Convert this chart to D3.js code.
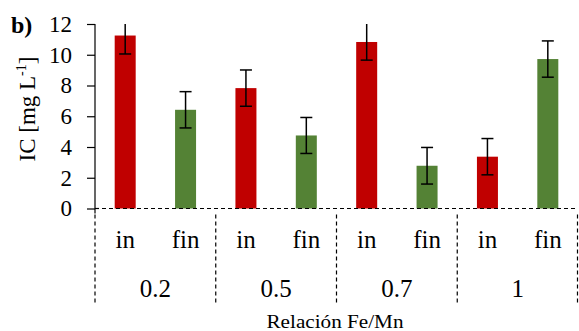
<!DOCTYPE html>
<html><head><meta charset="utf-8">
<script src="https://cdn.jsdelivr.net/npm/d3@7"></script>
<style>body{margin:0;background:#fff}svg{display:block}text{font-family:"Liberation Serif","Times New Roman",serif;fill:#000}</style>
</head><body>
<script>
const categories = ["0.2", "0.5", "0.7", "1"];
const stages = ["in", "fin"];
const inValues = [11.25, 7.83, 10.83, 3.37];
const finValues = [6.42, 4.75, 2.78, 9.72];
const inErrors = [1.2, 1.18, 1.18, 1.18];
const finErrors = [1.18, 1.17, 1.19, 1.18];
const yTicks = [0, 2, 4, 6, 8, 10, 12];
const colors = {in: "#C00000", fin: "#548235"};

const W = 579, H = 331;
const svg = d3.select("body").append("svg").attr("width", W).attr("height", H);
const x0 = 95, x1 = 578, yBase = 208.5, yTop = 24;

const xGroup = d3.scaleBand().domain(categories).range([x0, x1]).padding(0);
const xStage = d3.scaleBand().domain(stages).range([0, xGroup.bandwidth()]).padding(0);
const y = d3.scaleLinear().domain([0, 12]).range([yBase, yTop]);
const barW = 21;

const data = [];
categories.forEach((c, i) => {
  data.push({cat: c, stage: "in", v: inValues[i], e: inErrors[i]});
  data.push({cat: c, stage: "fin", v: finValues[i], e: finErrors[i]});
});
const cx = d => xGroup(d.cat) + xStage(d.stage) + xStage.bandwidth() / 2;

// bars
svg.selectAll("rect.bar").data(data).join("rect")
  .attr("x", d => cx(d) - barW / 2).attr("width", barW)
  .attr("y", d => y(d.v)).attr("height", d => y(0) - y(d.v))
  .attr("fill", d => colors[d.stage]);

// baseline dashed
svg.append("line").attr("x1", x0).attr("x2", x1).attr("y1", yBase).attr("y2", yBase)
  .attr("stroke", "#000").attr("stroke-width", 1.2).attr("stroke-dasharray", "4,3");

// y axis
const yAxis = d3.axisLeft(y).tickValues(yTicks).tickSize(8).tickPadding(15).tickFormat(d3.format("d"));
const ga = svg.append("g").attr("transform", `translate(${x0},0)`).call(yAxis);
ga.select(".domain").remove();
ga.append("line").attr("x1", 0).attr("x2", 0).attr("y1", yTop).attr("y2", yBase + 5).attr("stroke", "#000").attr("stroke-width", 1.2);
ga.selectAll(".tick line").attr("stroke", "#000").attr("stroke-width", 1.2);
ga.selectAll(".tick text").attr("font-size", 23).attr("font-family", "Liberation Serif").attr("fill", "#000");
ga.append("line").attr("x1", 0).attr("x2", 4).attr("y1", yBase).attr("y2", yBase).attr("stroke", "#000").attr("stroke-width", 1.2);

// error bars (clipped at axis max)
const eg = svg.append("g").attr("stroke", "#000").attr("stroke-width", 1.5);
data.forEach(d => {
  const hi = d.v + d.e, lo = d.v - d.e;
  const c = cx(d);
  eg.append("line").attr("x1", c).attr("x2", c).attr("y1", y(Math.min(hi, 12))).attr("y2", y(lo));
  if (hi <= 12) eg.append("line").attr("x1", c - 6).attr("x2", c + 6).attr("y1", y(hi)).attr("y2", y(hi));
  eg.append("line").attr("x1", c - 6).attr("x2", c + 6).attr("y1", y(lo)).attr("y2", y(lo));
});

// category dividers
const bounds = categories.map(c => xGroup(c)).concat([x1 - 0.5]);
svg.selectAll("line.div").data(bounds).join("line")
  .attr("x1", d => d).attr("x2", d => d).attr("y1", yBase + 6).attr("y2", 303)
  .attr("stroke", "#000").attr("stroke-width", 1.2).attr("stroke-dasharray", "4,3");

// stage labels
svg.selectAll("text.stage").data(data).join("text")
  .attr("x", d => cx(d)).attr("y", 248).attr("text-anchor", "middle")
  .attr("font-size", 25).text(d => d.stage);

// category labels
svg.selectAll("text.cat").data(categories).join("text")
  .attr("x", d => xGroup(d) + xGroup.bandwidth() / 2).attr("y", 296.5).attr("text-anchor", "middle")
  .attr("font-size", 25).text(d => d);

// axis title x
svg.append("text").attr("x", 335).attr("y", 328).attr("text-anchor", "middle")
  .attr("font-size", 19).attr("textLength", 137).attr("lengthAdjust", "spacingAndGlyphs").text("Relación Fe/Mn");

// y title
const yt = svg.append("text").attr("transform", "translate(35,109) rotate(-90)").attr("text-anchor", "middle").attr("font-size", 23);
yt.append("tspan").text("IC [mg L");
yt.append("tspan").attr("font-size", 14).attr("dy", -9).text("-1");
yt.append("tspan").attr("dy", 9).text("]");

// panel label
svg.append("text").attr("x", 11).attr("y", 33).attr("font-size", 24).attr("font-weight", "bold").text("b)");
</script>
</body></html>
